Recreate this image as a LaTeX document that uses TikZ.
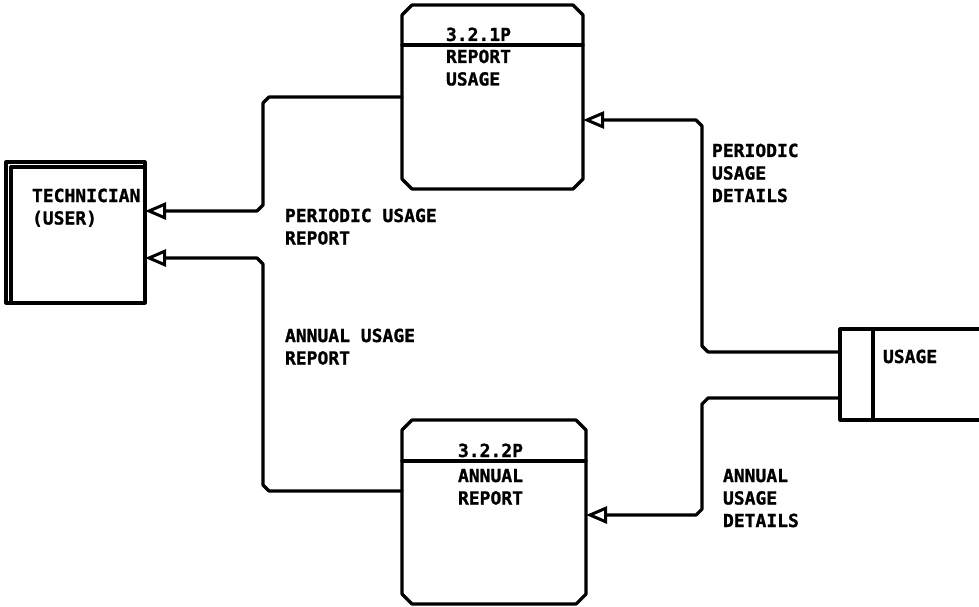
\documentclass[tikz,border=0pt]{standalone}
\usepackage{fontspec}
\newfontfamily\lbfont[BoldFeatures={FakeBold=1.2}]{DejaVu Sans Mono}
\usetikzlibrary{arrows.meta}
\newcommand\mystack[1]{\vtop{\baselineskip=22.5pt\lineskiplimit=-20pt\relax #1}}
\begin{document}
\begin{tikzpicture}[x=1pt,y=-1pt,
  ln/.style={line width=3.2pt, line join=round, line cap=round},
  flow/.style={ln, -{Triangle[open, length=21pt, width=17pt, line width=3pt]}},
  hold/.style={draw=none, inner sep=0pt, outer sep=0pt},
  lbl/.style={font=\lbfont\bfseries\fontsize{18}{22.5}\selectfont, anchor=base west, inner sep=0pt, outer sep=0pt}]
\useasboundingbox (0,0) rectangle (979,607);

% technician (external entity)
\node[hold, draw, ln, minimum width=139pt, minimum height=141pt] (tech) at (75.5,232.5) {};
\draw[ln] (11,303) -- (11,167) -- (145,167);

% process 3.2.1P
\node[hold, minimum width=181pt, minimum height=184pt] (p1) at (492.5,97) {};
\draw[ln] ([xshift=10pt]p1.north west) -- ([xshift=-10pt]p1.north east) -- ([yshift=-10pt]p1.north east)
  -- ([yshift=10pt]p1.south east) -- ([xshift=-10pt]p1.south east) -- ([xshift=10pt]p1.south west)
  -- ([yshift=10pt]p1.south west) -- ([yshift=-10pt]p1.north west) -- cycle;
\draw[ln] (p1.west |- 0,45) -- (p1.east |- 0,45);

% process 3.2.2P
\node[hold, minimum width=184pt, minimum height=184pt] (p2) at (494,512) {};
\draw[ln] ([xshift=10pt]p2.north west) -- ([xshift=-10pt]p2.north east) -- ([yshift=-10pt]p2.north east)
  -- ([yshift=10pt]p2.south east) -- ([xshift=-10pt]p2.south east) -- ([xshift=10pt]p2.south west)
  -- ([yshift=10pt]p2.south west) -- ([yshift=-10pt]p2.north west) -- cycle;
\draw[ln] (p2.west |- 0,461) -- (p2.east |- 0,461);

% data store USAGE
\node[hold, minimum width=139pt, minimum height=91pt] (store) at (909.5,374.5) {};
\draw[ln] (store.north east) -- (store.north west) -- (store.south west) -- (store.south east);
\draw[ln] (873,329) -- (873,420);

% connectors
\draw[flow] (p1.west) -- (269,97) -- (263,103) -- (263,205) -- (257,211) -- (tech.east |- 0,211);
\draw[flow] (p2.west |- 0,491) -- (269,491) -- (263,485) -- (263,264) -- (257,258) -- (tech.east |- 0,258);
\draw[flow] (store.west |- 0,352) -- (708,352) -- (702,346) -- (702,126) -- (696,120) -- (p1.east |- 0,120);
\draw[flow] (store.west |- 0,398) -- (708,398) -- (702,404) -- (702,509) -- (696,515) -- (p2.east |- 0,515);

% texts
\node[lbl] (ttech) at (32,202) {\mystack{\hbox{TECHNICIAN}\hbox{(USER)}}};
\node[lbl] (tp1) at (446,41) {3.2.1P};
\node[lbl] (tp1n) at (446,63) {\mystack{\hbox{REPORT}\hbox{USAGE}}};
\node[lbl] (tp2) at (458,457) {3.2.2P};
\node[lbl] (tp2n) at (458,482) {\mystack{\hbox{ANNUAL}\hbox{REPORT}}};
\node[lbl] (tstore) at (883,363) {USAGE};
\node[lbl] (f1) at (285,222) {\mystack{\hbox{PERIODIC USAGE}\hbox{REPORT}}};
\node[lbl] (f2) at (285,342) {\mystack{\hbox{ANNUAL USAGE}\hbox{REPORT}}};
\node[lbl] (f3) at (712,157) {\mystack{\hbox{PERIODIC}\hbox{USAGE}\hbox{DETAILS}}};
\node[lbl] (f4) at (723,482) {\mystack{\hbox{ANNUAL}\hbox{USAGE}\hbox{DETAILS}}};
\end{tikzpicture}
\end{document}
